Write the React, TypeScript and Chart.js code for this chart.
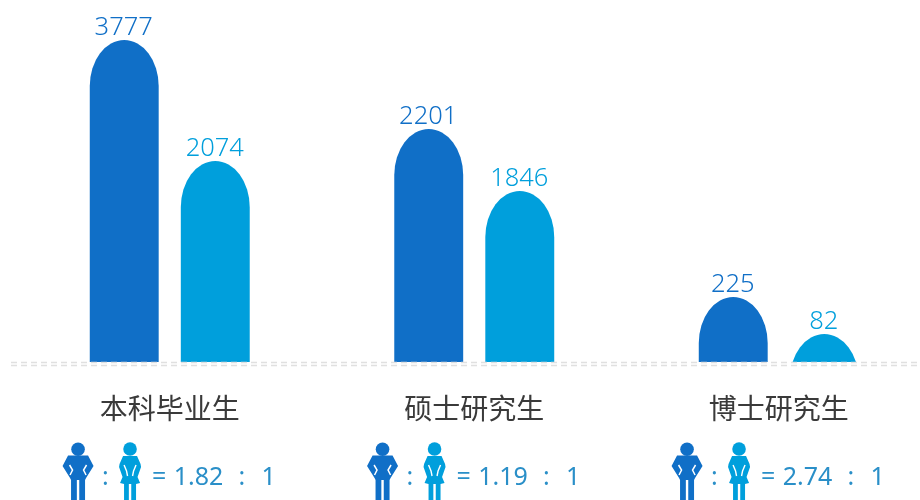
import React, { useEffect, useRef } from "react";
import { Chart, registerables } from "chart.js";

Chart.register(...registerables);

const categories = ["本科毕业生", "硕士研究生", "博士研究生"];
// Printed values
const maleLabels = [3777, 2201, 225];
const femaleLabels = [2074, 1846, 82];
// Bar heights as drawn in the picture (they are not proportional to the printed values)
const maleHeights = [322, 233, 65];
const femaleHeights = [201, 171, 28];
const ratios = ["1.82", "1.19", "2.74"];

const MALE = "#106fc7";
const FEMALE = "#009fdc";
const FONT = '"Noto Sans", "Noto Sans CJK SC", sans-serif';

function figure(ctx: CanvasRenderingContext2D, pts: number[][], x: number) {
  ctx.beginPath();
  pts.forEach(([dx, y], i) => (i === 0 ? ctx.moveTo(x + dx, y) : ctx.lineTo(x + dx, y)));
  ctx.closePath();
  ctx.fill();
}

function drawMan(ctx: CanvasRenderingContext2D, x: number) {
  ctx.save();
  ctx.fillStyle = MALE;
  ctx.beginPath();
  ctx.arc(x, 449.3, 6.8, 0, Math.PI * 2);
  ctx.fill();
  const half = [
    [7, 455.5],
    [10, 455.5],
    [15.5, 466],
    [8, 478],
    [7, 480],
    [7, 500],
    [1.2, 500],
    [1.2, 480],
  ];
  figure(ctx, [...half, ...half.slice().reverse().map(([dx, y]) => [-dx, y])], x);
  ctx.strokeStyle = "#ffffff";
  ctx.lineWidth = 1.5;
  ctx.beginPath();
  ctx.moveTo(x - 8.5, 465);
  ctx.lineTo(x - 5.5, 470);
  ctx.lineTo(x - 8, 475);
  ctx.moveTo(x + 8.5, 465);
  ctx.lineTo(x + 5.5, 470);
  ctx.lineTo(x + 8, 475);
  ctx.stroke();
  ctx.restore();
}

function drawWoman(ctx: CanvasRenderingContext2D, x: number) {
  ctx.save();
  ctx.fillStyle = FEMALE;
  ctx.beginPath();
  ctx.arc(x, 449, 6.8, 0, Math.PI * 2);
  ctx.fill();
  const half = [
    [7, 456],
    [10.5, 464],
    [11, 467],
    [7.5, 477],
    [10, 483],
    [6, 484],
    [6, 500],
    [1.2, 500],
    [1.2, 484],
  ];
  figure(ctx, [...half, ...half.slice().reverse().map(([dx, y]) => [-dx, y])], x);
  ctx.strokeStyle = "#ffffff";
  ctx.lineWidth = 1.4;
  ctx.beginPath();
  ctx.moveTo(x - 6, 465);
  ctx.lineTo(x - 3.5, 471);
  ctx.lineTo(x - 2.5, 476);
  ctx.moveTo(x + 6, 465);
  ctx.lineTo(x + 3.5, 471);
  ctx.lineTo(x + 2.5, 476);
  ctx.stroke();
  ctx.restore();
}

const archPlugin = {
  id: "archBars",
  beforeDatasetDraw(chart: any, args: any) {
    const { ctx } = chart;
    const meta = args.meta;
    const ds = chart.data.datasets[args.index];
    ctx.save();
    ctx.fillStyle = ds.backgroundColor;
    meta.data.forEach((el: any) => {
      const { x, y, base, width } = el.getProps(["x", "y", "base", "width"], true);
      const a = width / 2;
      const b = 46;
      ctx.save();
      ctx.beginPath();
      ctx.rect(x - a - 1, y - 1, width + 2, base - y + 1);
      ctx.clip();
      ctx.beginPath();
      ctx.moveTo(x - a, Math.max(base, y + b));
      ctx.lineTo(x - a, y + b);
      ctx.ellipse(x, y + b, a, b, 0, Math.PI, Math.PI * 2);
      ctx.lineTo(x + a, Math.max(base, y + b));
      ctx.closePath();
      ctx.fill();
      ctx.restore();
    });
    ctx.restore();
    return false;
  },
  afterDatasetsDraw(chart: any) {
    const { ctx } = chart;
    const xScale = chart.scales.x;
    ctx.save();
    // value labels
    ctx.textAlign = "center";
    ctx.textBaseline = "alphabetic";
    ctx.font = `300 25.5px ${FONT}`;
    chart.data.datasets.forEach((ds: any, i: number) => {
      const meta = chart.getDatasetMeta(i);
      ctx.fillStyle = ds.backgroundColor;
      meta.data.forEach((el: any, j: number) => {
        const { x, y } = el.getProps(["x", "y"], true);
        ctx.fillText(String(ds.printed[j]), x - 0.5, y - 5);
      });
    });
    // dashed base lines
    ctx.strokeStyle = "#e0e0e0";
    ctx.lineWidth = 1.5;
    ctx.setLineDash([6, 4]);
    [362.5, 365.5].forEach((yy) => {
      ctx.beginPath();
      ctx.moveTo(11, yy);
      ctx.lineTo(920, yy);
      ctx.stroke();
    });
    ctx.setLineDash([]);
    // ratio rows
    categories.forEach((_, i) => {
      const c = xScale.getPixelForValue(i);
      drawMan(ctx, c - 91.7);
      drawWoman(ctx, c - 39.7);
      ctx.font = `25px ${FONT}`;
      ctx.fillStyle = "#2a8fc8";
      ctx.textBaseline = "alphabetic";
      ctx.textAlign = "center";
      ctx.fillText(":", c - 64.3, 485);
      ctx.fillText("=", c - 10.5, 485);
      ctx.textAlign = "left";
      ctx.fillText(ratios[i], c + 4, 485);
      ctx.textAlign = "center";
      ctx.fillText(":", c + 72, 485);
      ctx.fillText("1", c + 99, 485);
    });
    ctx.restore();
  },
};

export default function App() {
  const ref = useRef<HTMLCanvasElement>(null);
  useEffect(() => {
    const chart = new Chart(ref.current!, {
      type: "bar",
      data: {
        labels: categories,
        datasets: [
          { label: "男", data: maleHeights, backgroundColor: MALE, printed: maleLabels } as any,
          { label: "女", data: femaleHeights, backgroundColor: FEMALE, printed: femaleLabels } as any,
        ],
      },
      options: {
        responsive: false,
        animation: false,
        layout: { padding: { left: 17.5, right: 9, top: 0, bottom: 0 } },
        plugins: { legend: { display: false }, tooltip: { enabled: false } },
        datasets: { bar: { categoryPercentage: 0.598, barPercentage: 0.757 } },
        scales: {
          x: {
            grid: { display: false },
            border: { display: false },
            ticks: {
              color: "#3a3a3a",
              font: { size: 28, family: FONT },
              padding: 24,
              maxRotation: 0,
            },
            afterFit(scale: any) {
              scale.height = 138;
            },
          },
          y: { display: false, min: 0, max: 362 },
        },
      },
      plugins: [archPlugin],
    } as any);
    return () => chart.destroy();
  }, []);
  return (
    <div style={{ position: "absolute", left: 0, top: 0, width: 920, height: 500, overflow: "hidden", background: "#fff" }}>
      <canvas ref={ref} width={940} height={500} style={{ display: "block" }} />
    </div>
  );
}
